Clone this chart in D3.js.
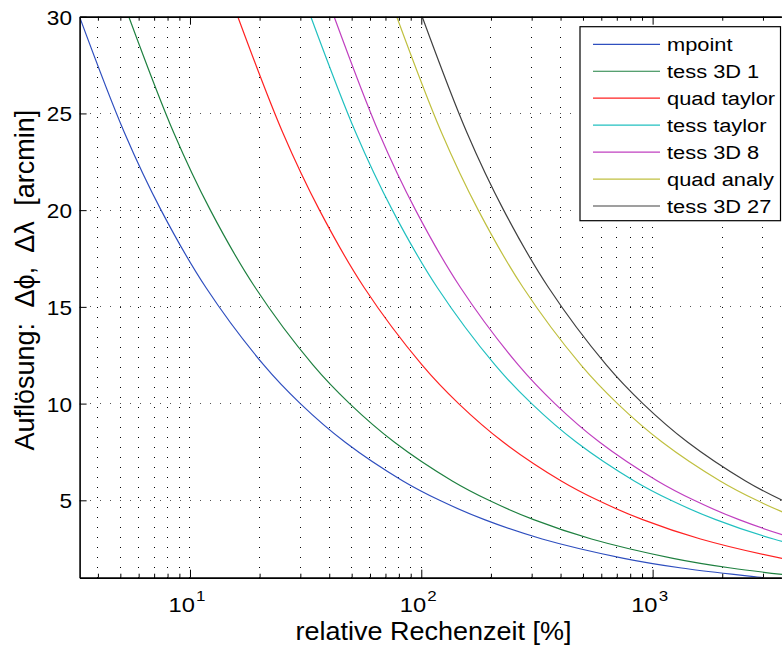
<!DOCTYPE html>
<html>
<head>
<meta charset="utf-8">
<script src="https://cdn.jsdelivr.net/npm/d3@7"></script>
<style>
  html, body { margin: 0; padding: 0; background: #fff; }
  svg { display: block; }
  text { font-family: "Liberation Sans", Arial, Helvetica, sans-serif; fill: #000; }
</style>
</head>
<body>
<svg id="chart" width="782" height="649"></svg>
<script>
// ---- data ----
const resolution = [30, 24, 20, 16, 12, 10, 8, 6, 5, 4, 3, 2, 1.5, 1];          // arcmin
const seriesNames = ["mpoint", "tess 3D 1", "quad taylor", "tess taylor", "tess 3D 8", "quad analy", "tess 3D 27"];
const mpoint     = [3.33, 5.21, 7.5, 11.72, 20.83, 30, 46.9, 83.3, 120, 187.5, 333, 750, 1333, 3000];
const tess3D1    = [5.44, 8.51, 12.25, 19.14, 34.0, 49, 76.6, 136.1, 196, 306, 544, 1225, 2178, 4900];
const quadTaylor = [16.1, 25.2, 36.3, 56.6, 100.7, 145, 226.6, 402.8, 580, 906, 1611, 3625, 6444, 14500];
const tessTaylor = [33.3, 52.1, 75, 117.2, 208.3, 300, 468.8, 833, 1200, 1875, 3333, 7500, 13333, 30000];
const tess3D8    = [42.0, 65.6, 94.5, 147.7, 262.5, 378, 590.6, 1050, 1512, 2363, 4200, 9450, 16800, 37800];
const quadAnaly  = [78.3, 122.4, 176.3, 275.4, 489.6, 705, 1102, 1958, 2820, 4406, 7833, 17625, 31333, 70500];
const tess3D27   = [100.9, 157.6, 227, 354.7, 630.6, 908, 1419, 2522, 3632, 5675, 10089, 22700, 40356, 90800];
const seriesValues = [mpoint, tess3D1, quadTaylor, tessTaylor, tess3D8, quadAnaly, tess3D27];
const seriesColors = ["#2f4fbf", "#1f8040", "#ff2222", "#22c0c0", "#c040c0", "#c0c040", "#404040"];
const yTicks = [5, 10, 15, 20, 25, 30];
const xMajorTicks = [10, 100, 1000];
const xExponents = ["1", "2", "3"];
const xLabel = "relative Rechenzeit [%]";
const yLabel = "Auflösung: Δϕ, Δλ [arcmin]";

// ---- layout ----
const L = 79.6, R = 781.3, T = 16.7, B = 577.7;
const svg = d3.select("#chart");
const x = d3.scaleLog().domain([10/3, 3600]).range([L, R]);
const y = d3.scaleLinear().domain([1, 30]).range([B, T]);

// minor x ticks
const xMinor = [];
[1, 10, 100, 1000].forEach(dec => { for (let k = 2; k <= 9; k++) { const v = dec * k; if (v > 10/3 && v < 3600) xMinor.push(v); } });

// grid
const grid = svg.append("g").attr("fill", "none");
grid.selectAll("line.vx").data(xMinor.concat(xMajorTicks)).enter().append("line")
  .attr("x1", d => x(d)).attr("x2", d => x(d)).attr("y1", T).attr("y2", B)
  .attr("stroke", "#000").attr("stroke-width", 1).attr("stroke-dasharray", "1,9")
  .attr("shape-rendering", "crispEdges");
grid.selectAll("line.hy").data(yTicks.filter(d => d < 30)).enter().append("line")
  .attr("x1", L).attr("x2", R).attr("y1", d => y(d)).attr("y2", d => y(d))
  .attr("stroke", "#555").attr("stroke-width", 1).attr("stroke-dasharray", "1,9")
  .attr("shape-rendering", "crispEdges");

// clip
svg.append("clipPath").attr("id", "clip").append("rect")
  .attr("x", L).attr("y", T).attr("width", R - L + 5).attr("height", B - T);

// curves
const line = d3.line().x(d => x(d[0])).y(d => y(d[1])).curve(d3.curveCatmullRom.alpha(0.5));
const plot = svg.append("g").attr("clip-path", "url(#clip)");
seriesValues.forEach((vals, i) => {
  const pts = vals.map((v, j) => [v, resolution[j]]);
  plot.append("path").datum(pts).attr("d", line)
    .attr("fill", "none").attr("stroke", seriesColors[i]).attr("stroke-width", 1.2);
});

// axes (box + ticks)
const axG = svg.append("g");
const bottomAxis = d3.axisBottom(x).tickValues(xMajorTicks).tickFormat("").tickSizeInner(-8).tickSizeOuter(0);
axG.append("g").attr("transform", `translate(0,${B})`).call(bottomAxis);
const bottomMinor = d3.axisBottom(x).tickValues(xMinor).tickFormat("").tickSizeInner(-4).tickSizeOuter(0);
axG.append("g").attr("transform", `translate(0,${B})`).call(bottomMinor);
const topAxis = d3.axisTop(x).tickValues(xMajorTicks).tickFormat("").tickSizeInner(-8).tickSizeOuter(0);
axG.append("g").attr("transform", `translate(0,${T})`).call(topAxis);
const topMinor = d3.axisTop(x).tickValues(xMinor).tickFormat("").tickSizeInner(-4).tickSizeOuter(0);
axG.append("g").attr("transform", `translate(0,${T})`).call(topMinor);
const leftAxis = d3.axisLeft(y).tickValues(yTicks).tickFormat("").tickSizeInner(-7).tickSizeOuter(0);
axG.append("g").attr("transform", `translate(${L},0)`).call(leftAxis);
axG.selectAll("path.domain").attr("stroke", "#000").attr("stroke-width", 1.6);
axG.selectAll(".tick line").attr("stroke", "#000").attr("stroke-width", 1);

// stretched text helper
function stext(g, tx, ty, s, size, anchor, str) {
  return g.append("text").attr("transform", `translate(${tx},${ty}) scale(${s},1)`)
    .attr("font-size", size).attr("text-anchor", anchor).text(str);
}

// y tick labels
const labG = svg.append("g");
yTicks.forEach(v => { stext(labG, 72, y(v) + 8, 1.13, 20, "end", String(v)); });

// x tick labels 10^n
xMajorTicks.forEach((v, i) => {
  const t = labG.append("text").attr("transform", `translate(${x(v) - 3},${612}) scale(1.13,1)`)
    .attr("font-size", 21).attr("text-anchor", "middle");
  t.append("tspan").text("10");
  t.append("tspan").attr("font-size", 15).attr("dy", -11).attr("dx", 1).text(xExponents[i]);
});

// axis labels
stext(labG, (L + R) / 2 + 3, 640, 1.08, 25, "middle", xLabel);
labG.append("text").attr("transform", `translate(34,${(T + B) / 2 - 17}) rotate(-90)`)
  .attr("font-size", 27).attr("word-spacing", 8).attr("text-anchor", "middle").text(yLabel);

// legend
const lg = svg.append("g");
lg.append("rect").attr("x", 580).attr("y", 26.7).attr("width", 200.5).attr("height", 194)
  .attr("fill", "#fff").attr("stroke", "#000").attr("stroke-width", 1.2);
seriesNames.forEach((n, i) => {
  const yy = 44.3 + i * 26.95;
  lg.append("line").attr("x1", 593).attr("x2", 660).attr("y1", yy).attr("y2", yy)
    .attr("stroke", seriesColors[i]).attr("stroke-width", 1.2);
  stext(lg, 667, yy + 7, 1.15, 19, "start", n);
});
</script>
</body>
</html>
